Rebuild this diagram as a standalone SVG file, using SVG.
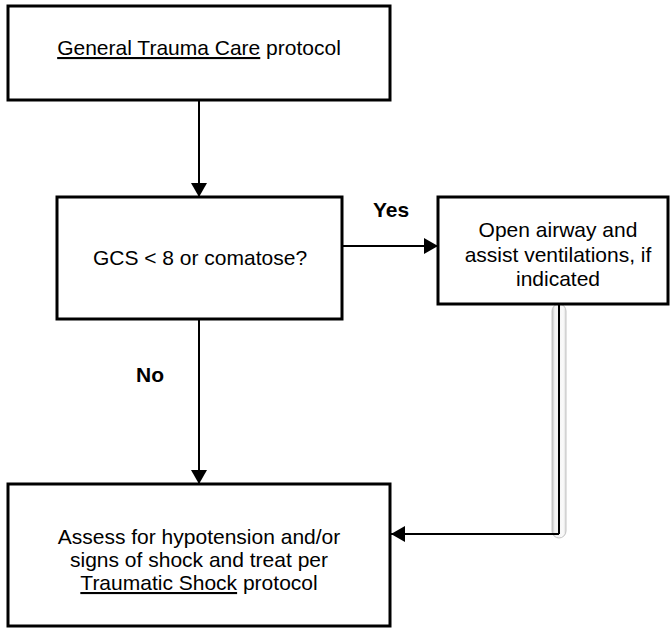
<svg xmlns="http://www.w3.org/2000/svg" width="671" height="629" viewBox="0 0 671 629">
  <style>
    .box { fill: #ffffff; stroke: #000000; stroke-width: 3; }
    .txt { font-family: "Liberation Sans", Arial, sans-serif; font-size: 21px; fill: #000000; text-anchor: middle; }
    .lbl { font-family: "Liberation Sans", Arial, sans-serif; font-size: 21px; font-weight: bold; fill: #000000; text-anchor: middle; }
    .link { fill: none; stroke: #000000; stroke-width: 2; }
    .u { text-decoration: underline; }
  </style>
  <defs>
    <marker id="head" viewBox="0 0 14 16" refX="14" refY="8" markerWidth="14" markerHeight="16" orient="auto" markerUnits="userSpaceOnUse">
      <path d="M0,0 L14,8 L0,16 Z" fill="#000000"/>
    </marker>
    <linearGradient id="pipe" x1="0" y1="0" x2="1" y2="0">
      <stop offset="0" stop-color="#bcbcbc"/>
      <stop offset="0.2" stop-color="#f2f2f2"/>
      <stop offset="0.8" stop-color="#fafafa"/>
      <stop offset="1" stop-color="#dcdcdc"/>
    </linearGradient>
  </defs>

  <!-- connectors -->
  <g id="connectors">
    <line class="link" x1="199" y1="100" x2="199" y2="197" marker-end="url(#head)"/>
    <line class="link" x1="342" y1="246" x2="438" y2="246" marker-end="url(#head)"/>
    <line class="link" x1="199" y1="319" x2="199" y2="484" marker-end="url(#head)"/>
    <!-- shaded elbow from the airway step back to the shock assessment -->
    <rect x="552" y="304" width="14" height="234" rx="7" ry="7" fill="url(#pipe)" stroke="#c4c4c4" stroke-width="1"/>
    <line x1="559" y1="304" x2="559" y2="534" stroke="#000000" stroke-width="2"/>
    <line class="link" x1="559" y1="534" x2="391" y2="534" marker-end="url(#head)"/>
    <text class="lbl" x="391" y="217">Yes</text>
    <text class="lbl" x="150" y="382">No</text>
  </g>

  <g id="trauma-care">
    <rect class="box" x="8" y="6" width="382" height="94"/>
    <text class="txt" x="199" y="55"><tspan class="u">General Trauma Care</tspan> protocol</text>
  </g>

  <g id="gcs-check">
    <rect class="box" x="57" y="197" width="285" height="122"/>
    <text class="txt" x="200" y="265">GCS &lt; 8 or comatose?</text>
  </g>

  <g id="airway">
    <rect class="box" x="438" y="197" width="230" height="107"/>
    <text class="txt" x="558" y="237">Open airway and</text>
    <text class="txt" x="558" y="262">assist ventilations, if</text>
    <text class="txt" x="558" y="286">indicated</text>
  </g>

  <g id="shock">
    <rect class="box" x="8" y="484" width="382" height="142"/>
    <text class="txt" x="199" y="544">Assess for hypotension and/or</text>
    <text class="txt" x="199" y="567">signs of shock and treat per</text>
    <text class="txt" x="199" y="590"><tspan class="u">Traumatic Shock</tspan> protocol</text>
  </g>
</svg>
